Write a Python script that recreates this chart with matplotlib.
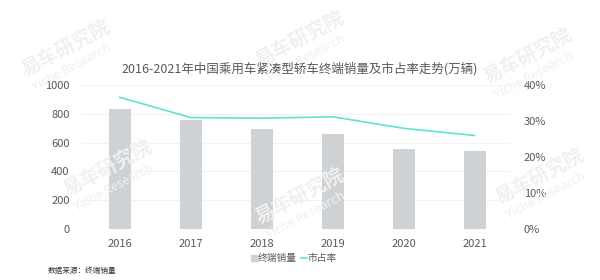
import matplotlib
matplotlib.use('Agg')
import matplotlib.pyplot as plt
from matplotlib.patches import Patch
from matplotlib.lines import Line2D

plt.rcParams['font.family'] = ['Noto Sans CJK SC', 'DejaVu Sans']

years = ['2016', '2017', '2018', '2019', '2020', '2021']
sales = [831, 756, 692, 663, 556, 544]          # 终端销量 (万辆)
share = [36.6, 31.0, 30.8, 31.2, 28.0, 26.0]    # 市占率 (%)

bar_color = '#cfd2d5'
line_color = '#5ee3cf'
text_color = '#595959'

fig = plt.figure(figsize=(6, 2.8), dpi=100)
ax = fig.add_axes([0.137, 0.182, 0.713, 0.514])
x = list(range(len(years)))
ax.bar(x, sales, width=0.31, color=bar_color, zorder=2)
ax.set_ylim(0, 1000)
ax.set_yticks([0, 200, 400, 600, 800, 1000])
ax.set_xlim(-0.53, 5.5)
ax.set_xticks(x)
ax.set_xticklabels(years)
ax.grid(axis='y', color='#f2f2f2', linewidth=0.8, zorder=0)
for s in ax.spines.values():
    s.set_visible(False)
ax.tick_params(length=0, labelsize=8, labelcolor=text_color)
ax.tick_params(axis='y', pad=9)
ax.tick_params(axis='x', pad=7)

ax2 = ax.twinx()
ax2.plot(x, share, color=line_color, linewidth=1.2, zorder=3)
ax2.set_ylim(0, 40)
ax2.set_yticks([0, 10, 20, 30, 40])
ax2.set_yticklabels(['0%', '10%', '20%', '30%', '40%'])
for s in ax2.spines.values():
    s.set_visible(False)
ax2.tick_params(length=0, labelsize=8, labelcolor=text_color, pad=10)

fig.text(0.5, 0.755, '2016-2021年中国乘用车紧凑型轿车终端销量及市占率走势(万辆)',
         ha='center', va='center', fontsize=9, color=text_color)

handles = [Patch(color=bar_color), Line2D([], [], color=line_color, linewidth=1.2)]
fig.legend(handles, ['终端销量', '市占率'], loc='center', bbox_to_anchor=(0.49, 0.078),
           ncol=2, frameon=False, fontsize=7, labelcolor=text_color,
           handlelength=0.6, handleheight=0.6, handletextpad=0.1, columnspacing=0.4)

fig.text(0.08, 0.032, '数据来源：终端销量', fontsize=5.5, color='#333333', va='center')

# watermarks
for wx, wy in [(0.11, 0.83), (0.5, 0.86), (0.88, 0.8), (0.18, 0.4), (0.5, 0.3), (0.9, 0.37)]:
    fig.text(wx, wy, '易车研究院', fontsize=14, color='#f0f0f0', rotation=28,
             ha='center', va='center', weight='bold', zorder=0)
    fig.text(wx + 0.01, wy - 0.07, 'Yiche Research', fontsize=9, color='#f0f0f0', rotation=28,
             ha='center', va='center', zorder=0)

fig.savefig('out.png', dpi=100)
